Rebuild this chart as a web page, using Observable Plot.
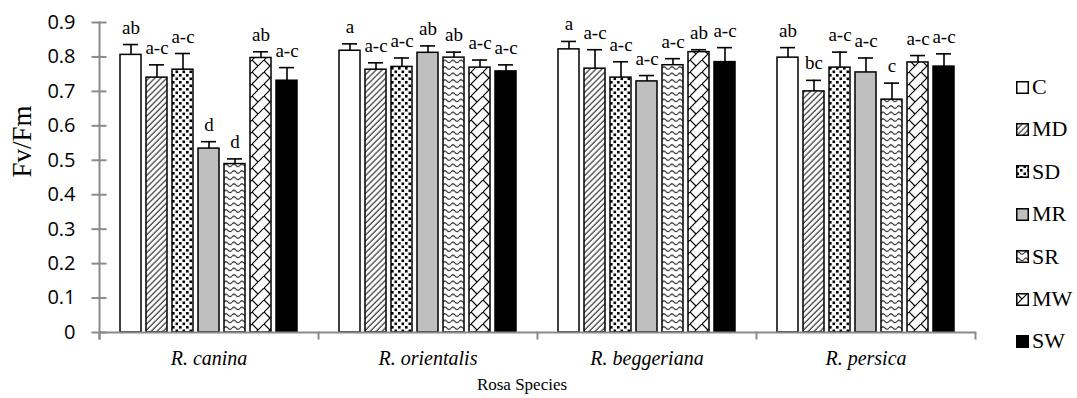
<!DOCTYPE html>
<html><head><meta charset="utf-8">
<script src="https://cdn.jsdelivr.net/npm/d3@7"></script>
<script src="https://cdn.jsdelivr.net/npm/@observablehq/plot@0.6"></script>
<style>
body{margin:0;background:#fff;}
#wrap{position:relative;width:1077px;height:398px;overflow:hidden;}
#chart{position:absolute;left:0;top:0;}
#legend{position:absolute;left:1016px;top:0;font-family:"Liberation Serif",serif;font-size:22px;color:#000;}
.item{position:absolute;left:0;display:flex;align-items:center;height:24px;white-space:nowrap;}
.item svg{margin-right:3px;}
#xtitle{position:absolute;left:422px;width:200px;text-align:center;top:376px;font-family:"Liberation Serif",serif;font-size:17px;line-height:18px;color:#000;}
</style></head><body>
<div id="wrap"><div id="chart"></div><div id="legend"></div><div id="xtitle">Rosa Species</div></div>
<script>
const species = ["R. canina", "R. orientalis", "R. beggeriana", "R. persica"];
const treatments = ["C", "MD", "SD", "MR", "SR", "MW", "SW"];
const yTicks = [0, 0.1, 0.2, 0.3, 0.4, 0.5, 0.6, 0.7, 0.8, 0.9];

const meanCanina = [0.806, 0.740, 0.763, 0.534, 0.489, 0.797, 0.731];
const errCanina = [0.030, 0.037, 0.047, 0.020, 0.015, 0.018, 0.038];
const letCanina = ["ab", "a-c", "a-c", "d", "d", "ab", "a-c"];

const meanOrientalis = [0.818, 0.763, 0.771, 0.812, 0.798, 0.769, 0.758];
const errOrientalis = [0.020, 0.020, 0.026, 0.020, 0.016, 0.022, 0.019];
const letOrientalis = ["a", "a-c", "a-c", "ab", "ab", "a-c", "a-c"];

const meanBeggeriana = [0.822, 0.766, 0.740, 0.729, 0.776, 0.814, 0.785];
const errBeggeriana = [0.023, 0.055, 0.046, 0.017, 0.019, 0.007, 0.042];
const letBeggeriana = ["a", "a-c", "a-c", "a-c", "a-c", "ab", "a-c"];

const meanPersica = [0.798, 0.700, 0.769, 0.755, 0.676, 0.784, 0.772];
const errPersica = [0.029, 0.032, 0.045, 0.042, 0.048, 0.020, 0.037];
const letPersica = ["ab", "bc", "a-c", "a-c", "c", "a-c", "a-c"];

const means = [meanCanina, meanOrientalis, meanBeggeriana, meanPersica];
const errs = [errCanina, errOrientalis, errBeggeriana, errPersica];
const lets = [letCanina, letOrientalis, letBeggeriana, letPersica];

const rows = [];
species.forEach((s, i) => treatments.forEach((t, j) => rows.push({
  species: s, t, v: means[i][j], e: errs[i][j], top: means[i][j] + errs[i][j], letter: lets[i][j]
})));

const fills = {C: "white", MD: "url(#pMD)", SD: "url(#pSD)", MR: "#bfbfbf", SR: "url(#pSR)", MW: "url(#pMW)", SW: "black"};
const serif = "Liberation Serif";
const gray = "#8a8a8a";

const chart = Plot.plot({
  width: 1000, height: 398,
  marginLeft: 99, marginRight: 25, marginTop: 22, marginBottom: 66,
  style: {fontFamily: serif, background: "white", color: "black", overflow: "visible"},
  fx: {domain: species, padding: 0, label: null, axis: null},
  x: {domain: treatments, paddingInner: 0.18, paddingOuter: 0.675, axis: null},
  y: {domain: [0, 0.9], axis: null},
  marks: [
    ...treatments.map(t => Plot.barY(rows.filter(d => d.t === t), {
      fx: "species", x: "t", y: "v", fill: fills[t], stroke: "black", strokeWidth: 1.5
    })),
    Plot.ruleX(rows, {fx: "species", x: "t", y1: "v", y2: "top", stroke: "black", strokeWidth: 1.6}),
    Plot.tickY(rows, {fx: "species", x: "t", y: "top", stroke: "black", strokeWidth: 1.6, insetLeft: 3, insetRight: 3}),
    Plot.text(rows, {fx: "species", x: "t", y: "top", text: "letter", dy: -11, lineAnchor: "bottom", fontFamily: serif, fontSize: 19}),
    Plot.ruleY([0], {stroke: gray, strokeWidth: 2}),
    Plot.frame({anchor: "left", facetAnchor: "left", stroke: gray, strokeWidth: 2, insetBottom: -6}),
    Plot.frame({anchor: "left", stroke: gray, strokeWidth: 2, insetTop: 310, insetBottom: -6}),
    Plot.frame({anchor: "right", facetAnchor: "right", stroke: gray, strokeWidth: 2, insetTop: 310, insetBottom: -6}),
    Plot.axisY({ticks: yTicks, tickSize: 15, dx: 7.5, tickFormat: () => "", stroke: gray, strokeWidth: 2, label: null}),
    Plot.axisY({ticks: yTicks, tickSize: 0, tickPadding: 24, tickFormat: d => String(d), fontFamily: "Open Sans", fontSize: 20, label: null}),
    Plot.text(["Fv/Fm"], {frameAnchor: "left", facetAnchor: "left", text: d => d, rotate: -90, dx: -77, fontFamily: serif, fontSize: 27, lineAnchor: "middle"}),
    Plot.axisFx({anchor: "bottom", tickSize: 0, tickPadding: 18, fontFamily: serif, fontStyle: "italic", fontSize: 20, label: null})
  ]
});
document.getElementById("chart").appendChild(chart);

// patterns
const svg = d3.select(chart);
const defs = svg.insert("defs", ":first-child");
const pMD = defs.append("pattern").attr("id", "pMD").attr("patternUnits", "userSpaceOnUse")
  .attr("width", 4.2).attr("height", 4.2).attr("patternTransform", "rotate(45)");
pMD.append("rect").attr("width", 4.2).attr("height", 4.2).attr("fill", "white");
pMD.append("line").attr("x1", 1).attr("x2", 1).attr("y1", 0).attr("y2", 4.2).attr("stroke", "#444").attr("stroke-width", 1.3);

const pSD = defs.append("pattern").attr("id", "pSD").attr("patternUnits", "userSpaceOnUse").attr("width", 7).attr("height", 7);
pSD.append("rect").attr("width", 7).attr("height", 7).attr("fill", "white");
pSD.append("rect").attr("x", 0.5).attr("y", 0.5).attr("width", 2.6).attr("height", 2.6).attr("fill", "black");
pSD.append("rect").attr("x", 4).attr("y", 4).attr("width", 2.6).attr("height", 2.6).attr("fill", "black");

const pSR = defs.append("pattern").attr("id", "pSR").attr("patternUnits", "userSpaceOnUse").attr("width", 8).attr("height", 6.5);
pSR.append("rect").attr("width", 8).attr("height", 6.5).attr("fill", "white");
pSR.append("path").attr("d", "M0,3 Q2,0.5 4,3 T8,3").attr("fill", "none").attr("stroke", "black").attr("stroke-width", 1);

const pMW = defs.append("pattern").attr("id", "pMW").attr("patternUnits", "userSpaceOnUse").attr("width", 12).attr("height", 12);
pMW.append("rect").attr("width", 12).attr("height", 12).attr("fill", "white");
pMW.append("path").attr("d", "M-1,13 L13,-1 M0,0 L6,6").attr("fill", "none").attr("stroke", "black").attr("stroke-width", 1.2);

// legend
const legend = d3.select("#legend");
const legendCenters = [87, 129.4, 171.8, 214.2, 256.6, 299, 341.4];
treatments.forEach((t, i) => {
  const item = legend.append("div").attr("class", "item").style("top", (legendCenters[i] - 12) + "px");
  const s = item.append("svg").attr("width", 13).attr("height", 13);
  s.append("rect").attr("x", 0.75).attr("y", 0.75).attr("width", 11.5).attr("height", 11.5)
    .attr("fill", fills[t]).attr("stroke", "black").attr("stroke-width", 1.5);
  item.append("span").text(t);
});
</script></body></html>
